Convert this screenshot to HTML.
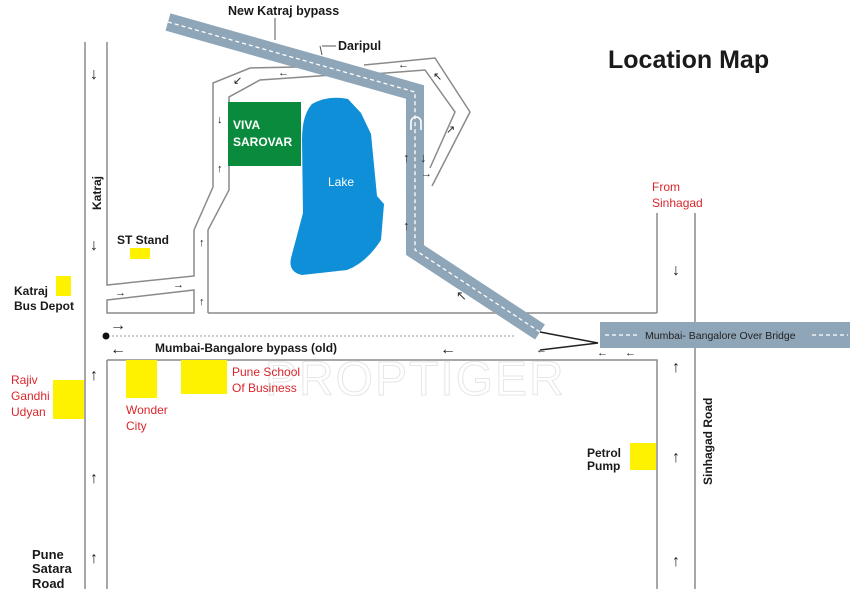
<!DOCTYPE html>
<html><head><meta charset="utf-8"><style>
html,body{margin:0;padding:0;background:#fff;}
svg{display:block;font-family:"Liberation Sans",Arial,sans-serif;}
.b{font-weight:bold;fill:#1a1a1a;}
.r{fill:#d9262b;}
.a{font-size:16px;fill:#222;}
.s{font-size:11px;fill:#222;}
.g{font-size:13px;fill:#333;}
</style></head><body>
<svg width="850" height="600" viewBox="0 0 850 600" xmlns="http://www.w3.org/2000/svg">
<rect width="850" height="600" fill="#fff"/>
<g fill="none" stroke="#8a8a8a" stroke-width="1.5">
<line x1="85" y1="42" x2="85" y2="589"/>
<polyline points="107,42 107,285 194,276 194,230 213,187 213,83 250,68 297,67"/>
<polyline points="107,360 107,589"/>
<polygon points="107,300 194,290 194,313 107,313"/>
<polyline points="208,313 208,230 229,190 229,97 260,80 333,75"/>
<line x1="208" y1="313" x2="657" y2="313"/>
<polyline points="657,213 657,313"/>
<line x1="695" y1="213" x2="695" y2="589"/>
<polyline points="107,360 657,360 657,589"/>
<polyline points="364,65 435,58 470,112 432,186"/>
<polyline points="372,74 425,70 455,112 430,168"/>
</g>
<path d="M168,22 L415,92 L415,250 L540,332" fill="none" stroke="#8fa6b8" stroke-width="18" stroke-linejoin="miter"/>
<path d="M168,22 L415,92 L415,250 L540,332" fill="none" stroke="#fff" stroke-width="1.3" stroke-dasharray="4,3"/>
<rect x="600" y="322" width="250" height="26" fill="#8fa6b8"/>
<line x1="605" y1="335" x2="640" y2="335" stroke="#fff" stroke-width="1.3" stroke-dasharray="4,3"/>
<line x1="812" y1="335" x2="848" y2="335" stroke="#fff" stroke-width="1.3" stroke-dasharray="4,3"/>
<text x="645" y="339" font-size="10.5" fill="#222">Mumbai- Bangalore Over Bridge</text>
<polyline points="275,18 275,40" fill="none" stroke="#555" stroke-width="1"/>
<polyline points="320,46 322,55" fill="none" stroke="#555" stroke-width="1"/>
<line x1="322" y1="46" x2="336" y2="46" stroke="#555" stroke-width="1"/>
<circle cx="106" cy="336" r="3.5" fill="#111"/>
<line x1="112" y1="336" x2="515" y2="336" stroke="#999" stroke-width="1" stroke-dasharray="2,2"/>
<polyline points="540,332 598,343 540,350" fill="none" stroke="#222" stroke-width="1.5"/>
<path d="M312,104 Q328,95 348,99 L361,113 L371,134 L377,196 L384,204 L381,240 Q366,263 347,270 L302,275 Q288,272 291,258 L303,213 L302,140 Q302,115 312,104 Z" fill="#0f8fd8"/>
<text x="328" y="186" font-size="12" fill="#fff">Lake</text>
<rect x="228" y="102" width="73" height="64" fill="#0a8a3c"/>
<text x="233" y="129" font-size="12" font-weight="bold" fill="#fff">VIVA</text>
<text x="233" y="146" font-size="12" font-weight="bold" fill="#fff">SAROVAR</text>
<path d="M411,130 L411,122 A5,5 0 0 1 421,122 L421,130" fill="none" stroke="#fff" stroke-width="1.6"/>
<g fill="#fff200">
<rect x="130" y="248" width="20" height="11"/>
<rect x="56" y="276" width="15" height="20"/>
<rect x="53" y="380" width="31" height="39"/>
<rect x="126" y="360" width="31" height="38"/>
<rect x="181" y="360" width="46" height="34"/>
<rect x="630" y="443" width="26" height="27"/>
</g>
<text x="265" y="395" font-size="48" fill="none" stroke="#e6e6e6" stroke-width="1" letter-spacing="2">PROPTIGER</text>
<text x="608" y="68" font-size="25" class="b">Location Map</text>
<text x="228" y="15" font-size="12.5" class="b">New Katraj bypass</text>
<text x="338" y="50" font-size="12.5" class="b">Daripul</text>
<text x="117" y="244" font-size="12" class="b">ST Stand</text>
<text x="14" y="295" font-size="12" class="b">Katraj</text>
<text x="14" y="310" font-size="12" class="b">Bus Depot</text>
<text x="155" y="352" font-size="12" class="b">Mumbai-Bangalore bypass (old)</text>
<text transform="translate(101,210) rotate(-90)" font-size="12" class="b">Katraj</text>
<text transform="translate(712,485) rotate(-90)" font-size="12" class="b">Sinhagad Road</text>
<text x="587" y="457" font-size="12" class="b">Petrol</text>
<text x="587" y="470" font-size="12" class="b">Pump</text>
<text x="32" y="559" font-size="13" class="b">Pune</text>
<text x="32" y="573" font-size="13" class="b">Satara</text>
<text x="32" y="588" font-size="13" class="b">Road</text>
<g font-size="12" class="r">
<text x="11" y="384">Rajiv</text>
<text x="11" y="400">Gandhi</text>
<text x="11" y="416">Udyan</text>
<text x="126" y="414">Wonder</text>
<text x="126" y="430">City</text>
<text x="232" y="376">Pune School</text>
<text x="232" y="392">Of Business</text>
<text x="652" y="191">From</text>
<text x="652" y="207">Sinhagad</text>
</g>
<g class="a">
<text x="90" y="79">↓</text>
<text x="90" y="250">↓</text>
<text x="90" y="380">↑</text>
<text x="90" y="483">↑</text>
<text x="90" y="563">↑</text>
<text x="672" y="275">↓</text>
<text x="672" y="372">↑</text>
<text x="672" y="462">↑</text>
<text x="672" y="566">↑</text>
<text x="110" y="330">→</text>
<text x="110" y="354">←</text>
<text x="440" y="354">←</text>
</g>
<g class="s">
<text x="115" y="296">→</text>
<text x="173" y="288">→</text>
<text x="199" y="246">↑</text>
<text x="199" y="305">↑</text>
<text x="217" y="123">↓</text>
<text x="217" y="172">↑</text>
<text x="233" y="84">↙</text>
<text x="278" y="76">←</text>
<text x="398" y="68">←</text>
<text x="433" y="80">↖</text>
<text x="446" y="133">↗</text>
<text x="421" y="177">→</text>
<text x="536" y="353">←</text>
<text x="597" y="356">←</text>
<text x="625" y="356">←</text>
</g>
<g class="g">
<text x="420" y="162">↓</text>
<text x="403" y="162">↑</text>
<text x="403" y="230">↑</text>
<text x="456" y="300">↖</text>
</g>
</svg>
</body></html>
